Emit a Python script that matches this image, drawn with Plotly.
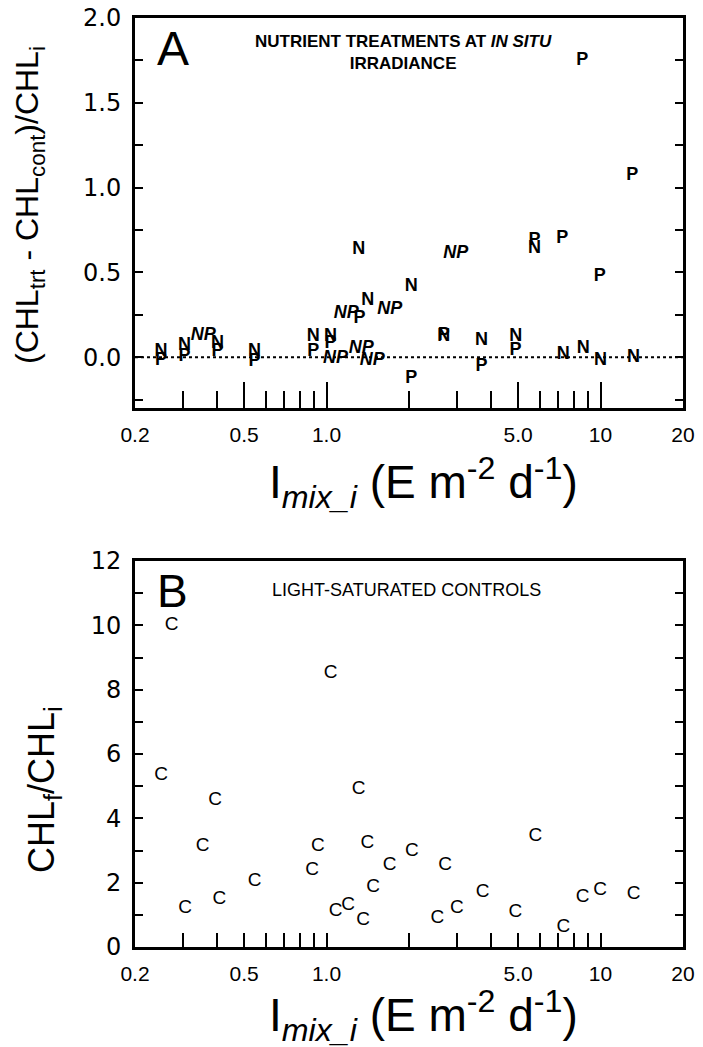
import plotly.graph_objects as go

# ---------------- data ----------------
# Panel A: nutrient treatments at in situ irradiance
n_x = [0.249, 0.303, 0.40, 0.546, 0.894, 1.034, 1.415, 1.31, 2.04, 2.68, 3.68, 4.90, 5.74, 7.31, 8.65, 10.0, 13.2]
n_y = [0.031, 0.067, 0.081, 0.031, 0.124, 0.124, 0.336, 0.635, 0.419, 0.12, 0.10, 0.124, 0.641, 0.018, 0.051, -0.022, -0.002]

p_x = [0.249, 0.303, 0.40, 0.546, 0.894, 1.034, 1.32, 2.04, 2.68, 3.68, 4.90, 5.74, 7.25, 9.94, 8.57, 13.05]
p_y = [-0.018, 0.002, 0.031, -0.028, 0.031, 0.081, 0.228, -0.126, 0.13, -0.057, 0.041, 0.69, 0.70, 0.478, 1.752, 1.074]

np_x = [0.355, 1.078, 1.18, 1.34, 1.47, 1.70, 2.96]
np_y = [0.13, -0.008, 0.258, 0.051, -0.022, 0.281, 0.612]

# Panel B: light-saturated controls
c_x = [0.272, 1.034, 0.249, 0.392, 0.353, 0.305, 0.406, 0.547, 0.886, 0.929, 1.31, 1.08, 1.20, 1.36,
       1.41, 1.48, 1.70, 2.05, 2.71, 2.54, 2.99, 3.71, 4.89, 5.78, 7.32, 8.61, 9.97, 13.2]
c_y = [10.0, 8.5, 5.34, 4.57, 3.14, 1.2, 1.48, 2.03, 2.39, 3.14, 4.9, 1.1, 1.3, 0.84,
       3.22, 1.87, 2.55, 2.98, 2.55, 0.89, 1.22, 1.69, 1.08, 3.45, 0.61, 1.54, 1.75, 1.65]

x_tickvals = [0.2, 0.5, 1, 5, 10, 20]
x_ticktext = ["0.2", "0.5", "1.0", "5.0", "10", "20"]
x_minorvals = [0.3, 0.4, 0.6, 0.7, 0.8, 0.9, 2, 3, 4, 6, 7, 8, 9]
ya_tickvals = [0, 0.5, 1.0, 1.5, 2.0]
ya_ticktext = ["0.0", "0.5", "1.0", "1.5", "2.0"]
yb_tickvals = [0, 2, 4, 6, 8, 10, 12]
yb_ticktext = ["0", "2", "4", "6", "8", "10", "12"]

FONT = "Liberation Sans, Arial, Helvetica, sans-serif"
YFONT = "DejaVu Sans, Liberation Sans, sans-serif"
W, H = 703, 1047


def px(x):
    return x / W


def py(y):
    return 1 - y / H


fig = go.Figure()

mk = dict(family=FONT, size=18, color="black")
fig.add_trace(go.Scatter(x=n_x, y=n_y, mode="text", text=["N"] * len(n_x),
                         textfont=dict(**mk, weight="bold"), xaxis="x", yaxis="y", showlegend=False))
fig.add_trace(go.Scatter(x=p_x, y=p_y, mode="text", text=["P"] * len(p_x),
                         textfont=dict(**mk, weight="bold"), xaxis="x", yaxis="y", showlegend=False))
fig.add_trace(go.Scatter(x=np_x, y=np_y, mode="text", text=["NP"] * len(np_x),
                         textfont=dict(**mk, weight="bold", style="italic"), xaxis="x", yaxis="y", showlegend=False))
fig.add_trace(go.Scatter(x=c_x, y=c_y, mode="text", text=["C"] * len(c_x),
                         textfont=dict(family=FONT, size=19, color="black"), xaxis="x2", yaxis="y2", showlegend=False))

xdom = [px(135), px(683)]
xtickfont = dict(family=FONT, size=21, color="black")
ytickfont = dict(family=YFONT, size=24, color="black")


def xaxis_cfg(anchor, major_len, minor_len):
    return dict(
        type="log", range=[-0.69897, 1.30103], domain=xdom, anchor=anchor,
        tickmode="array", tickvals=x_tickvals, ticktext=x_ticktext,
        ticks="inside", ticklen=major_len, tickwidth=2, tickcolor="black",
        minor=dict(tickmode="array", tickvals=x_minorvals, ticks="inside", ticklen=minor_len,
                   tickwidth=2, tickcolor="black", showgrid=False),
        showline=True, linewidth=3, linecolor="black", mirror=True, automargin=False,
        showgrid=False, zeroline=False, tickfont=xtickfont, ticklabelstandoff=6,
    )


def yaxis_cfg(rng, dom, anchor, tv, tt, mdt):
    return dict(
        range=rng, domain=dom, anchor=anchor,
        tickmode="array", tickvals=tv, ticktext=tt,
        ticks="inside", ticklen=8, tickwidth=2, tickcolor="black",
        minor=dict(dtick=mdt, ticks="inside", ticklen=8, tickwidth=2, tickcolor="black", showgrid=False),
        showline=True, linewidth=3, linecolor="black", mirror="ticks", automargin=False,
        showgrid=False, zeroline=False, tickfont=ytickfont, ticklabelstandoff=6,
    )


fig.update_layout(
    width=W, height=H, margin=dict(l=0, r=0, t=0, b=0, autoexpand=False),
    paper_bgcolor="white", plot_bgcolor="white",
    xaxis=xaxis_cfg("y", 26, 17),
    yaxis=yaxis_cfg([-0.3, 2.0], [py(408), py(18)], "x", ya_tickvals, ya_ticktext, 0.25),
    xaxis2=xaxis_cfg("y2", 14, 14),
    yaxis2=yaxis_cfg([0, 12], [py(947), py(561)], "x2", yb_tickvals, yb_ticktext, 1),
)

# dotted zero line in panel A
fig.add_shape(type="line", xref="x domain", yref="y", x0=0, x1=1, y0=0, y1=0,
              line=dict(color="black", width=2, dash="dot"))

ann = []
ann.append(dict(text="A", x=px(173), y=py(48), font=dict(family=FONT, size=48, color="black")))
ann.append(dict(text="<b>NUTRIENT TREATMENTS AT <i>IN SITU</i><br>IRRADIANCE</b>", x=px(403), y=py(53),
                align="center", font=dict(family=FONT, size=17, color="black")))
ann.append(dict(text="B", x=px(172), y=py(591), font=dict(family=FONT, size=46, color="black")))
ann.append(dict(text="LIGHT-SATURATED CONTROLS", x=px(406), y=py(590),
                font=dict(family=FONT, size=18, color="black")))
ann.append(dict(text="(CHL<sub>trt</sub> - CHL<sub>cont</sub>)/CHL<sub>i</sub>", x=px(30), y=py(205),
                textangle=-90, font=dict(family=FONT, size=32, color="black")))
ann.append(dict(text="CHL<sub>f</sub>/CHL<sub>i</sub>", x=px(44), y=py(790),
                textangle=-90, font=dict(family=FONT, size=36, color="black")))
xt = "I<sub><i>mix_i</i></sub> (E m<sup>-2</sup> d<sup>-1</sup>)"
ann.append(dict(text=xt, x=px(423), y=py(482), font=dict(family=FONT, size=46, color="black")))
ann.append(dict(text=xt, x=px(423), y=py(1015), font=dict(family=FONT, size=46, color="black")))

for a in ann:
    a.update(xref="paper", yref="paper", showarrow=False, xanchor="center", yanchor="middle")
fig.update_layout(annotations=ann)

fig.write_html("out.html", config={"displayModeBar": False},
               post_script="document.body.style.margin='0';document.body.style.overflow='hidden';")
